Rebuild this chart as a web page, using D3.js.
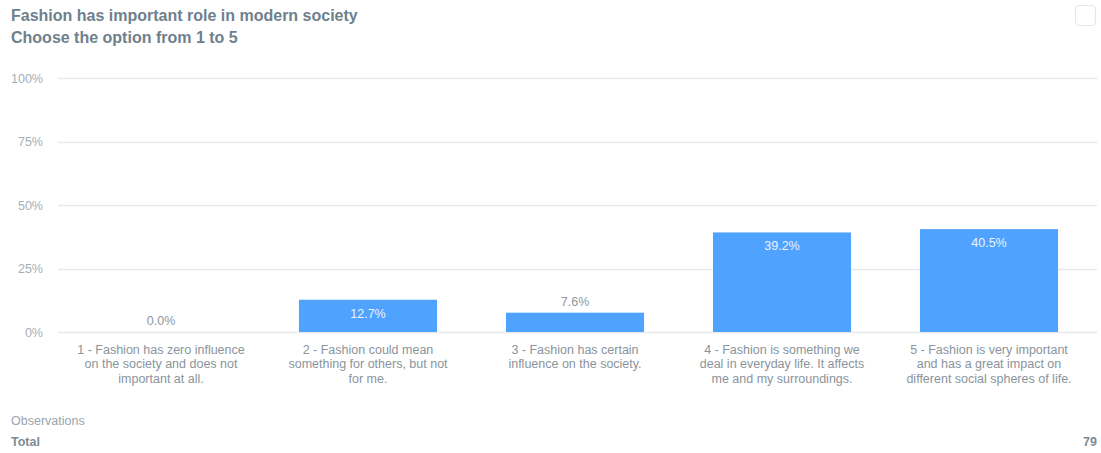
<!DOCTYPE html>
<html>
<head>
<meta charset="utf-8">
<script src="https://cdn.jsdelivr.net/npm/d3@7/dist/d3.min.js"></script>
<style>
  html, body { margin: 0; padding: 0; background: #fff; }
  svg { display: block; font-family: "Helvetica Neue", "Liberation Sans", Arial, sans-serif; }
</style>
</head>
<body>
<svg id="chart" width="1101" height="453"></svg>
<script>
// Survey answers (1 to 5) and share of respondents
const categories = [
  ["1 - Fashion has zero influence", "on the society and does not", "important at all."],
  ["2 - Fashion could mean", "something for others, but not", "for me."],
  ["3 - Fashion has certain", "influence on the society."],
  ["4 - Fashion is something we", "deal in everyday life. It affects", "me and my surroundings."],
  ["5 - Fashion is very important", "and has a great impact on", "different social spheres of life."]
];
const shares = [0.0, 12.7, 7.6, 39.2, 40.5];
const yTicks = [0, 25, 50, 75, 100];
const titleLines = ["Fashion has important role in modern society", "Choose the option from 1 to 5"];
const totalObservations = 79;

const svg = d3.select("#chart");
const W = 1101;

const x = d3.scaleBand()
  .domain(d3.range(categories.length))
  .range([57.5, 1092.5])
  .paddingInner(0.333)
  .paddingOuter(0.1665);

const y = d3.scaleLinear().domain([0, 100]).range([332, 78]);

// Title
svg.append("g").selectAll("text")
  .data(titleLines)
  .join("text")
  .attr("x", 11)
  .attr("y", (d, i) => 21 + i * 22)
  .attr("fill", "#6f808d")
  .attr("font-size", 16)
  .attr("font-weight", "bold")
  .text(d => d);

// Checkbox in the corner
svg.append("rect")
  .attr("x", 1075.5).attr("y", 5.5)
  .attr("width", 20).attr("height", 20)
  .attr("rx", 4)
  .attr("fill", "#fff")
  .attr("stroke", "#e3e8ee")
  .attr("stroke-width", 1.2);

// Grid lines and y labels
const yAxis = svg.append("g")
  .call(d3.axisLeft(y).tickValues(yTicks).tickFormat(d => d + "%").tickSize(0));
yAxis.select(".domain").remove();
yAxis.selectAll("text")
  .attr("x", 43)
  .attr("dy", "0.32em")
  .attr("fill", "#a4afb8")
  .attr("font-size", 12.5)
  .attr("text-anchor", "end");

svg.append("g").selectAll("line")
  .data(yTicks)
  .join("line")
  .attr("x1", 58).attr("x2", 1097)
  .attr("y1", d => Math.round(y(d)) + 0.5)
  .attr("y2", d => Math.round(y(d)) + 0.5)
  .attr("stroke", "#e6e9ec")
  .attr("stroke-width", 1.5);

// Bars
svg.append("g").selectAll("rect")
  .data(shares)
  .join("rect")
  .attr("x", (d, i) => x(i))
  .attr("width", x.bandwidth())
  .attr("y", d => y(d))
  .attr("height", d => y(0) - y(d))
  .attr("fill", "#50a2ff");

// Value labels: inside tall bars, above short ones
svg.append("g").selectAll("text")
  .data(shares)
  .join("text")
  .attr("x", (d, i) => x(i) + x.bandwidth() / 2)
  .attr("y", d => (y(0) - y(d) > 25) ? y(d) + 18 : y(d) - 7)
  .attr("text-anchor", "middle")
  .attr("font-size", 12.5)
  .attr("fill", d => (y(0) - y(d) > 25) ? "#eaf3ff" : "#8d979f")
  .text(d => d.toFixed(1) + "%");

// Category labels
const catG = svg.append("g").selectAll("text")
  .data(categories)
  .join("text")
  .attr("text-anchor", "middle")
  .attr("font-size", 12.5)
  .attr("fill", "#8a949c");
catG.selectAll("tspan")
  .data((d, i) => d.map(line => ({ line, i })))
  .join("tspan")
  .attr("x", d => x(d.i) + x.bandwidth() / 2)
  .attr("y", (d, j) => 353.5 + j * 14.5)
  .text(d => d.line);

// Observations footer
svg.append("text")
  .attr("x", 11).attr("y", 425)
  .attr("font-size", 12.5)
  .attr("fill", "#9aa5ae")
  .text("Observations");
svg.append("text")
  .attr("x", 11).attr("y", 446)
  .attr("font-size", 12.5)
  .attr("font-weight", "bold")
  .attr("fill", "#7e8b96")
  .text("Total");
svg.append("text")
  .attr("x", W - 4).attr("y", 446)
  .attr("font-size", 12.5)
  .attr("font-weight", "bold")
  .attr("text-anchor", "end")
  .attr("fill", "#7e8b96")
  .text(totalObservations);
</script>
</body>
</html>
